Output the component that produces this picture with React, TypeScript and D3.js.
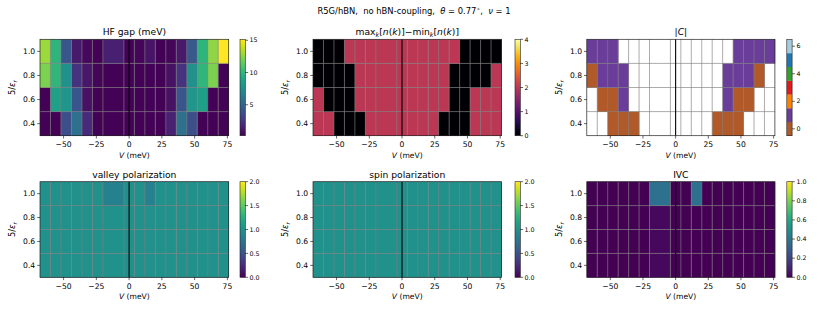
import React from "react";
import * as d3 from "d3";

// ---------- data ----------
const V_EDGES = [-68, -60, -52, -44, -36, -28, -20, -4, 4, 12, 20, 28, 36, 44, 52, 60, 68, 76];
const Y_EDGES = [0.3, 0.5, 0.7, 0.9, 1.1];
const X_TICKS = [-50, -25, 0, 25, 50, 75];
const Y_TICKS = [0.4, 0.6, 0.8, 1.0];

// rows: 5/eps_r = 0.4, 0.6, 0.8, 1.0 ; columns follow V_EDGES
const HF_GAP = [
  [0.3, 0.3, 3.8, 5.7, 2.0, 0.3, 0.3, 0.3, 0.3, 0.3, 0.3, 1.6, 5.7, 3.8, 0.3, 0.3, 0.3],
  [0.3, 8.7, 8.0, 4.2, 0.9, 0.3, 0.3, 0.3, 0.3, 0.3, 0.3, 0.9, 4.2, 8.2, 8.6, 0.3, 0.3],
  [12.2, 10.0, 7.7, 2.4, 1.1, 0.4, 0.3, 0.3, 0.3, 0.3, 0.3, 0.9, 2.4, 7.7, 10.0, 12.2, 0.3],
  [12.9, 9.9, 4.2, 1.2, 0.5, 0.3, 1.5, 0.3, 0.4, 1.0, 0.3, 0.4, 1.2, 4.3, 9.9, 12.6, 15.15],
];
const NK_RANGE = [
  [2, 2, 0, 0, 0, 2, 2, 2, 2, 2, 2, 0, 0, 0, 2, 2, 2],
  [2, 0, 0, 0, 2, 2, 2, 2, 2, 2, 2, 2, 0, 0, 2, 2, 2],
  [0, 0, 0, 0, 2, 2, 2, 2, 2, 2, 2, 2, 0, 0, 0, 0, 2],
  [0, 0, 0, 2, 2, 2, 2, 2, 2, 2, 2, 2, 2, 0, 0, 0, 0],
];
const N = null;
const CHERN = [
  [N, N, 0, 0, 0, N, N, N, N, N, N, 0, 0, 0, N, N, N],
  [N, 0, 0, 1, N, N, N, N, N, N, N, N, 1, 0, 0, N, N],
  [0, 1, 1, 1, N, N, N, N, N, N, N, N, 1, 1, 1, 0, N],
  [1, 1, 1, N, N, N, N, N, N, N, N, N, N, 1, 1, 1, 1],
];
const VALLEY = [
  [1, 1, 1, 1, 1, 1, 1, 1, 1, 1, 1, 1, 1, 1, 1, 1, 1],
  [1, 1, 1, 1, 1, 1, 1, 1, 1, 1, 1, 1, 1, 1, 1, 1, 1],
  [1, 1, 1, 1, 1, 1, 1, 1, 1, 1, 1, 1, 1, 1, 1, 1, 1],
  [1, 1, 1, 1, 1, 1, 0.87, 1, 1, 0.87, 1, 1, 1, 1, 1, 1, 1],
];
const SPIN = [
  [1, 1, 1, 1, 1, 1, 1, 1, 1, 1, 1, 1, 1, 1, 1, 1, 1],
  [1, 1, 1, 1, 1, 1, 1, 1, 1, 1, 1, 1, 1, 1, 1, 1, 1],
  [1, 1, 1, 1, 1, 1, 1, 1, 1, 1, 1, 1, 1, 1, 1, 1, 1],
  [1, 1, 1, 1, 1, 1, 1, 1, 1, 1, 1, 1, 1, 1, 1, 1, 1],
];
const IVC = [
  [0, 0, 0, 0, 0, 0, 0.02, 0, 0, 0, 0, 0, 0, 0, 0, 0, 0],
  [0, 0, 0, 0, 0, 0, 0.02, 0, 0, 0, 0, 0, 0, 0, 0, 0, 0],
  [0, 0, 0, 0, 0, 0, 0.02, 0, 0, 0, 0, 0, 0, 0, 0, 0, 0],
  [0, 0, 0, 0, 0, 0, 0.37, 0, 0, 0.37, 0, 0, 0, 0, 0, 0, 0],
];
const CHERN_COLORS = ["#b15928", "#6a3d9a", "#ff7f00", "#e31a1c", "#33a02c", "#1f78b4", "#a6cee3"];

// ---------- layout ----------
const FONT = "DejaVu Sans";
const COLS = [
  { x0: 40, x1: 228.7, cb: 240 },
  { x0: 313, x1: 501.5, cb: 515 },
  { x0: 586.8, x1: 774.9, cb: 786.8 },
];
const ROWS = [
  { y0: 39.3, y1: 135.7 },
  { y0: 181.7, y1: 277.3 },
];
const CBW = 5.3;
const TICK = 2.8;
const TICK_FS = 7.6;
const CB_FS = 6.3;
const TITLE_FS = 9.2;
const LABEL_FS = 7.6;

type PanelDef = {
  col: number;
  row: number;
  data: (number | null)[][];
  color: (v: number) => string;
  cbDomain: [number, number];
  cbTicks: number[];
  cbFmt: (v: number) => string;
  discrete?: string[];
  interp?: (t: number) => string;
  title: React.ReactNode;
};

const hfScale = d3.scaleSequential(d3.interpolateViridis).domain([0.2, 15.15]);
const nkScale = d3.scaleSequential(d3.interpolateInferno).domain([0, 4]);
const polScale = d3.scaleSequential(d3.interpolateViridis).domain([0, 2]);
const ivcScale = d3.scaleSequential(d3.interpolateViridis).domain([0, 1]);

const PANELS: PanelDef[] = [
  {
    col: 0, row: 0, data: HF_GAP, color: (v) => hfScale(v), cbDomain: [0.2, 15.15],
    cbTicks: [5, 10, 15], cbFmt: (v) => String(v), interp: d3.interpolateViridis,
    title: "HF gap (meV)",
  },
  {
    col: 1, row: 0, data: NK_RANGE, color: (v) => nkScale(v), cbDomain: [0, 4],
    cbTicks: [0, 1, 2, 3, 4], cbFmt: (v) => String(v), interp: d3.interpolateInferno,
    title: (
      <>
        <tspan>max</tspan>
        <tspan fontStyle="italic" fontSize={TITLE_FS * 0.7} dy={2}>k</tspan>
        <tspan dy={-2}>[</tspan>
        <tspan fontStyle="italic">n</tspan>
        <tspan>(</tspan>
        <tspan fontStyle="italic">k</tspan>
        <tspan>)]−min</tspan>
        <tspan fontStyle="italic" fontSize={TITLE_FS * 0.7} dy={2}>k</tspan>
        <tspan dy={-2}>[</tspan>
        <tspan fontStyle="italic">n</tspan>
        <tspan>(</tspan>
        <tspan fontStyle="italic">k</tspan>
        <tspan>)]</tspan>
      </>
    ),
  },
  {
    col: 2, row: 0, data: CHERN, color: (v) => CHERN_COLORS[v], cbDomain: [-0.5, 6.5],
    cbTicks: [0, 2, 4, 6], cbFmt: (v) => String(v), discrete: CHERN_COLORS,
    title: (
      <>
        <tspan>|</tspan>
        <tspan fontStyle="italic">C</tspan>
        <tspan>|</tspan>
      </>
    ),
  },
  {
    col: 0, row: 1, data: VALLEY, color: (v) => polScale(v), cbDomain: [0, 2],
    cbTicks: [0, 0.5, 1, 1.5, 2], cbFmt: (v) => v.toFixed(1), interp: d3.interpolateViridis,
    title: "valley polarization",
  },
  {
    col: 1, row: 1, data: SPIN, color: (v) => polScale(v), cbDomain: [0, 2],
    cbTicks: [0, 0.5, 1, 1.5, 2], cbFmt: (v) => v.toFixed(1), interp: d3.interpolateViridis,
    title: "spin polarization",
  },
  {
    col: 2, row: 1, data: IVC, color: (v) => ivcScale(v), cbDomain: [0, 1],
    cbTicks: [0, 0.2, 0.4, 0.6, 0.8, 1], cbFmt: (v) => v.toFixed(1), interp: d3.interpolateViridis,
    title: "IVC",
  },
];

function Panel({ p, idx }: { p: PanelDef; idx: number }) {
  const { x0, x1, cb } = COLS[p.col];
  const { y0, y1 } = ROWS[p.row];
  const x = d3.scaleLinear().domain([V_EDGES[0], V_EDGES[V_EDGES.length - 1]]).range([x0, x1]);
  const y = d3.scaleLinear().domain([Y_EDGES[0], Y_EDGES[Y_EDGES.length - 1]]).range([y1, y0]);
  const cy = d3.scaleLinear().domain(p.cbDomain).range([y1, y0]);
  const gradId = `grad${idx}`;
  const cx = (x0 + x1) / 2;

  const cells: React.ReactNode[] = [];
  p.data.forEach((row, ri) => {
    row.forEach((v, ci) => {
      if (v === null || v === undefined) return;
      const xa = x(V_EDGES[ci]);
      const xb = x(V_EDGES[ci + 1]);
      const ya = y(Y_EDGES[ri + 1]);
      const yb = y(Y_EDGES[ri]);
      cells.push(
        <rect key={`${ri}-${ci}`} x={xa} y={ya} width={xb - xa + 0.3} height={yb - ya + 0.3} fill={p.color(v)} />
      );
    });
  });

  return (
    <g>
      <rect x={x0} y={y0} width={x1 - x0} height={y1 - y0} fill="white" />
      {cells}
      {V_EDGES.slice(1, -1).map((e) => (
        <line key={`v${e}`} x1={x(e)} x2={x(e)} y1={y0} y2={y1} stroke="#808080" strokeOpacity={0.65} strokeWidth={1} />
      ))}
      {Y_EDGES.slice(1, -1).map((e) => (
        <line key={`h${e}`} x1={x0} x2={x1} y1={y(e)} y2={y(e)} stroke="#808080" strokeOpacity={0.65} strokeWidth={1} />
      ))}
      <line x1={x(0)} x2={x(0)} y1={y0} y2={y1} stroke="black" strokeWidth={1.1} />
      <rect x={x0} y={y0} width={x1 - x0} height={y1 - y0} fill="none" stroke="#222" strokeWidth={0.7} />
      {X_TICKS.map((t) => (
        <g key={`xt${t}`}>
          <line x1={x(t)} x2={x(t)} y1={y1} y2={y1 + TICK} stroke="black" strokeWidth={0.6} />
          <text x={x(t)} y={y1 + TICK + 8.5} fontSize={TICK_FS} fontFamily={FONT} textAnchor="middle" fill="black">
            {t < 0 ? `−${-t}` : `${t}`}
          </text>
        </g>
      ))}
      {Y_TICKS.map((t) => (
        <g key={`yt${t}`}>
          <line x1={x0 - TICK} x2={x0} y1={y(t)} y2={y(t)} stroke="black" strokeWidth={0.6} />
          <text x={x0 - TICK - 2} y={y(t)} dy="0.35em" fontSize={TICK_FS} fontFamily={FONT} textAnchor="end" fill="black">
            {t.toFixed(1)}
          </text>
        </g>
      ))}
      <text x={cx} y={y1 + 22} fontSize={LABEL_FS} fontFamily={FONT} textAnchor="middle" fill="black">
        <tspan fontStyle="italic">V</tspan>
        <tspan style={{ whiteSpace: "pre" }}> (meV)</tspan>
      </text>
      <text
        transform={`translate(${x0 - 25},${(y0 + y1) / 2}) rotate(-90)`}
        fontSize={8.2}
        fontFamily={FONT}
        textAnchor="middle"
        fill="black"
      >
        <tspan>5/</tspan>
        <tspan fontStyle="italic">ε</tspan>
        <tspan fontStyle="italic" fontSize={8.2 * 0.7} dy={1.8}>r</tspan>
      </text>
      <text x={cx} y={y0 - 4} fontSize={TITLE_FS} fontFamily={FONT} textAnchor="middle" fill="black">
        {p.title}
      </text>
      {p.interp && (
        <defs>
          <linearGradient id={gradId} x1="0" y1="1" x2="0" y2="0">
            {d3.range(0, 1.0001, 0.05).map((t) => (
              <stop key={t} offset={t} stopColor={p.interp!(t)} />
            ))}
          </linearGradient>
        </defs>
      )}
      {p.interp && <rect x={cb} y={y0} width={CBW} height={y1 - y0} fill={`url(#${gradId})`} />}
      {p.discrete &&
        p.discrete.map((c, i) => (
          <rect key={c} x={cb} y={cy(i + 0.5)} width={CBW} height={cy(i - 0.5) - cy(i + 0.5) + 0.2} fill={c} />
        ))}
      <rect x={cb} y={y0} width={CBW} height={y1 - y0} fill="none" stroke="#222" strokeWidth={0.6} />
      {p.cbTicks.map((t) => (
        <g key={`ct${t}`}>
          <line x1={cb + CBW} x2={cb + CBW + TICK} y1={cy(t)} y2={cy(t)} stroke="black" strokeWidth={0.6} />
          <text x={cb + CBW + TICK + 1.5} y={cy(t)} dy="0.35em" fontSize={CB_FS} fontFamily={FONT} fill="black">
            {p.cbFmt(t)}
          </text>
        </g>
      ))}
    </g>
  );
}

export default function App() {
  return (
    <svg
      width={830}
      height={312}
      viewBox="0 0 830 312"
      style={{ position: "absolute", left: 0, top: 0, background: "white" }}
    >
      <rect width={830} height={312} fill="white" />
      <text x={414} y={14} fontSize={8.4} fontFamily={FONT} textAnchor="middle" fill="black" style={{ whiteSpace: "pre" }}>
        <tspan>R5G/hBN,  no hBN-coupling,  </tspan>
        <tspan fontStyle="italic">θ</tspan>
        <tspan> = 0.77</tspan>
        <tspan fontSize={6} dy={-3}>∘</tspan>
        <tspan dy={3}>,  </tspan>
        <tspan fontStyle="italic">ν</tspan>
        <tspan> = 1</tspan>
      </text>
      {PANELS.map((p, i) => (
        <Panel key={i} p={p} idx={i} />
      ))}
    </svg>
  );
}
